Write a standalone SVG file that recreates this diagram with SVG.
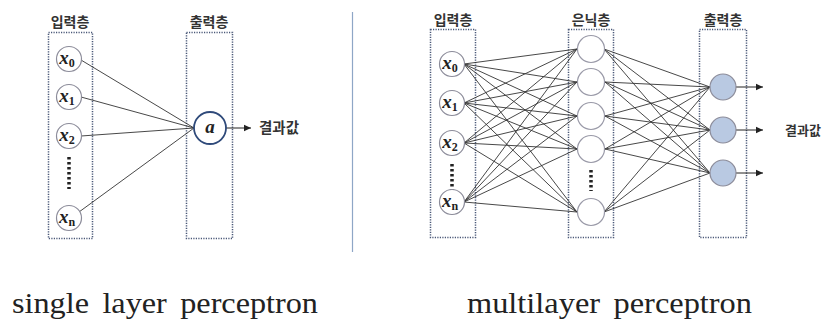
<svg xmlns="http://www.w3.org/2000/svg" width="825" height="320" viewBox="0 0 825 320">
<style>
.box{fill:none;stroke:#4a5878;stroke-width:1.5;stroke-dasharray:1.2 1.3}
.lbl{font-family:"Noto Sans CJK KR","Noto Sans",sans-serif;font-weight:bold;font-size:14px;fill:#333;text-anchor:middle}
.res{font-family:"Noto Sans CJK KR","Noto Sans",sans-serif;font-weight:bold;font-size:14.5px;fill:#333}
.in{fill:#fff;stroke:#8c8c9a;stroke-width:1.2}
.hid{fill:#fff;stroke:#9a9aa8;stroke-width:1.2}
.out{fill:#b9c9e2;stroke:#8c8c9a;stroke-width:1.2}
.var{font-family:"Liberation Serif",serif;font-style:italic;font-weight:bold;font-size:19px;fill:#222;text-anchor:middle}
.sub{font-size:12px;font-style:normal}
.dots{stroke:#222;stroke-width:3.5;stroke-dasharray:2.5 2.5}
.ln{stroke:#333;stroke-width:0.9;fill:none}
.arr{stroke:#222;stroke-width:1;fill:none;marker-end:url(#ah)}
.cap{font-family:"Liberation Serif",serif;font-size:30px;fill:#222;word-spacing:5px}
</style>
<defs>
<marker id="ah" markerWidth="8" markerHeight="8" refX="7" refY="4" orient="auto" markerUnits="userSpaceOnUse">
<path d="M0,0.8 L7,4 L0,7.2 Z" fill="#222"/>
</marker>
</defs>

<!-- separator -->
<line x1="352.5" y1="12" x2="352.5" y2="252" stroke="#8ea6c6" stroke-width="1.2"/>

<!-- ===== Single layer perceptron ===== -->
<g id="slp-input-layer">
<text class="lbl" x="70" y="27">입력층</text>
<rect class="box" x="48.5" y="32.5" width="44" height="206"/>
</g>
<g id="slp-output-layer">
<text class="lbl" x="209" y="27">출력층</text>
<rect class="box" x="186.5" y="32.5" width="46" height="206"/>
</g>

<g id="slp-connectors">
<line class="ln" x1="81" y1="60" x2="194" y2="128"/>
<line class="ln" x1="81" y1="97" x2="194" y2="128"/>
<line class="ln" x1="81" y1="136" x2="194" y2="128"/>
<line class="ln" x1="79" y1="212" x2="194" y2="128"/>
<line class="arr" x1="226" y1="128" x2="251" y2="128"/>
</g>

<g id="slp-x0"><circle class="in" cx="69" cy="59" r="12.5"/><text class="var" x="67" y="64">x<tspan class="sub" dy="3">0</tspan></text></g>
<g id="slp-x1"><circle class="in" cx="69" cy="97" r="12.5"/><text class="var" x="67" y="102">x<tspan class="sub" dy="3">1</tspan></text></g>
<g id="slp-x2"><circle class="in" cx="69" cy="136" r="12.5"/><text class="var" x="67" y="141">x<tspan class="sub" dy="3">2</tspan></text></g>
<g id="slp-dots"><line class="dots" x1="69" y1="157" x2="69" y2="189"/></g>
<g id="slp-xn"><circle class="in" cx="69" cy="218" r="12.5"/><text class="var" x="67" y="223">x<tspan class="sub" dy="3">n</tspan></text></g>
<g id="slp-a"><circle cx="210" cy="128" r="16" fill="#fff" stroke="#2f4a7a" stroke-width="1.8"/><text class="var" x="210" y="133">a</text></g>
<g id="slp-result"><text class="res" x="259" y="133">결과값</text></g>

<!-- ===== Multilayer perceptron ===== -->
<g id="mlp-input-layer">
<text class="lbl" x="453" y="25">입력층</text>
<rect class="box" x="430.5" y="29.5" width="45" height="208"/>
</g>
<g id="mlp-hidden-layer">
<text class="lbl" x="591" y="25">은닉층</text>
<rect class="box" x="568.5" y="29.5" width="45" height="208"/>
</g>
<g id="mlp-output-layer">
<text class="lbl" x="723" y="25">출력층</text>
<rect class="box" x="699.5" y="29.5" width="47" height="208"/>
</g>

<g id="mlp-connectors">
<!-- input -> hidden -->
<path class="ln" d="M464,64 L577,49 M464,64 L577,82 M464,64 L577,116 M464,64 L577,149 M464,64 L577,212
M464,103 L577,49 M464,103 L577,82 M464,103 L577,116 M464,103 L577,149 M464,103 L577,212
M464,143 L577,49 M464,143 L577,82 M464,143 L577,116 M464,143 L577,149 M464,143 L577,212
M464,202 L577,49 M464,202 L577,82 M464,202 L577,116 M464,202 L577,149 M464,202 L577,212"/>
<!-- hidden -> output -->
<path class="ln" d="M604,49 L710,87 M604,49 L710,130 M604,49 L710,173
M605,82 L710,87 M605,82 L710,130 M605,82 L710,173
M605,116 L710,87 M605,116 L710,130 M605,116 L710,173
M605,149 L710,87 M605,149 L710,130 M605,149 L710,173
M604,212 L710,87 M604,212 L710,130 M604,212 L710,173"/>
<line class="arr" x1="736" y1="87" x2="763" y2="87"/>
<line class="arr" x1="736" y1="130" x2="763" y2="130"/>
<line class="arr" x1="736" y1="173" x2="763" y2="173"/>
</g>

<g id="mlp-x0"><circle class="in" cx="452" cy="64" r="12.5"/><text class="var" x="450" y="69">x<tspan class="sub" dy="3">0</tspan></text></g>
<g id="mlp-x1"><circle class="in" cx="452" cy="103" r="12.5"/><text class="var" x="450" y="108">x<tspan class="sub" dy="3">1</tspan></text></g>
<g id="mlp-x2"><circle class="in" cx="452" cy="143" r="12.5"/><text class="var" x="450" y="148">x<tspan class="sub" dy="3">2</tspan></text></g>
<g id="mlp-in-dots"><line class="dots" x1="452" y1="164" x2="452" y2="193"/></g>
<g id="mlp-xn"><circle class="in" cx="452" cy="202" r="12.5"/><text class="var" x="450" y="207">x<tspan class="sub" dy="3">n</tspan></text></g>

<g id="mlp-h1"><circle class="hid" cx="591" cy="49" r="13.5"/></g>
<g id="mlp-h2"><circle class="hid" cx="591" cy="82" r="13.5"/></g>
<g id="mlp-h3"><circle class="hid" cx="591" cy="116" r="13.5"/></g>
<g id="mlp-h4"><circle class="hid" cx="591" cy="149" r="13.5"/></g>
<g id="mlp-h-dots"><line class="dots" x1="591" y1="170" x2="591" y2="191"/></g>
<g id="mlp-h5"><circle class="hid" cx="591" cy="212" r="13.5"/></g>

<g id="mlp-o1"><circle class="out" cx="723" cy="87" r="13"/></g>
<g id="mlp-o2"><circle class="out" cx="723" cy="130" r="13"/></g>
<g id="mlp-o3"><circle class="out" cx="723" cy="173" r="13"/></g>
<g id="mlp-result"><text class="res" x="785" y="135" style="font-size:13px">결과값</text></g>

<!-- captions -->
<text class="cap" x="12" y="313" textLength="306" lengthAdjust="spacingAndGlyphs">single layer perceptron</text>
<text class="cap" x="467" y="313" textLength="285" lengthAdjust="spacingAndGlyphs">multilayer perceptron</text>
</svg>
